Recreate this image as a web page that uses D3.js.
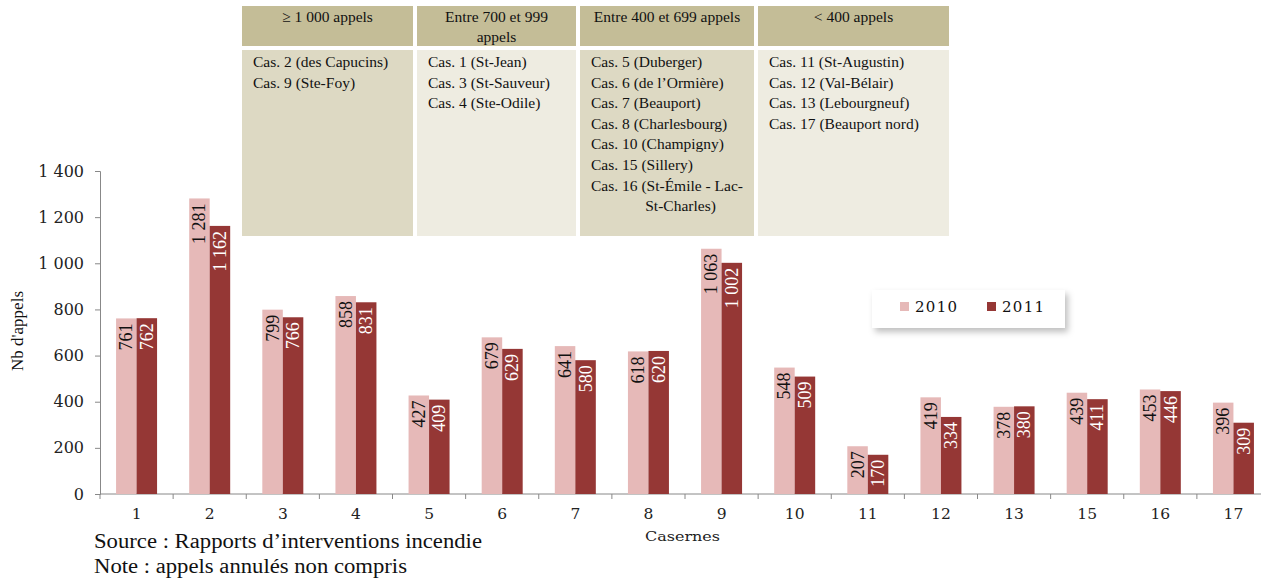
<!DOCTYPE html>
<html><head><meta charset="utf-8">
<script src="https://cdn.jsdelivr.net/npm/d3@7"></script>
<style>body{margin:0;background:#fff}svg{display:block}</style>
</head><body><svg id="c" width="1261" height="579"></svg>
<script>
const categories = ["1","2","3","4","5","6","7","8","9","10","11","12","13","15","16","17"];
const series = ["2010","2011"];
const values2010 = [761,1281,799,858,427,679,641,618,1063,548,207,419,378,439,453,396];
const values2011 = [762,1162,766,831,409,629,580,620,1002,509,170,334,380,411,446,309];
const yTicks = [0,200,400,600,800,1000,1200,1400];
const tableHeaders = [["≥ 1 000 appels"],["Entre 700 et 999","appels"],["Entre 400 et 699 appels"],["< 400 appels"]];
const tableRows = [
  ["Cas. 2 (des Capucins)","Cas. 9 (Ste-Foy)"],
  ["Cas. 1 (St-Jean)","Cas. 3 (St-Sauveur)","Cas. 4 (Ste-Odile)"],
  ["Cas. 5 (Duberger)","Cas. 6 (de l’Ormière)","Cas. 7 (Beauport)","Cas. 8 (Charlesbourg)","Cas. 10 (Champigny)","Cas. 15 (Sillery)","Cas. 16 (St-Émile - Lac-","              St-Charles)"],
  ["Cas. 11 (St-Augustin)","Cas. 12 (Val-Bélair)","Cas. 13 (Lebourgneuf)","Cas. 17 (Beauport nord)"]
];
const colors = ["#e6b9b8","#953735"];
const labelColors = ["#111","#fff"];

const svg = d3.select("#c");
const x = d3.scaleBand().domain(categories).range([100,1270]).paddingInner(0).paddingOuter(0);
const y = d3.scaleLinear().domain([0,1400]).range([494,171]);
const barW = 20.5;
const serif = "'Liberation Serif', serif";
const wide = "'DejaVu Serif', serif";
const fmt = v => d3.format(",")(v).replace(",", " ");

// table
const cols = [[242,413],[417,576],[580,754],[758,949]];
const bodyFill = ["#ddd9c3","#eeece1","#ddd9c3","#eeece1"];
const tbl = svg.append("g");
cols.forEach((c,i)=>{
  tbl.append("rect").attr("x",c[0]).attr("y",6).attr("width",c[1]-c[0]).attr("height",40).attr("fill","#c4bd97");
  tbl.append("rect").attr("x",c[0]).attr("y",50).attr("width",c[1]-c[0]).attr("height",186).attr("fill",bodyFill[i]);
  tableHeaders[i].forEach((t,j)=>{
    tbl.append("text").attr("x",(c[0]+c[1])/2).attr("y",22+j*20).attr("text-anchor","middle")
      .attr("font-family",serif).attr("font-size",15.5).attr("fill","#111").text(t);
  });
  tableRows[i].forEach((t,j)=>{
    tbl.append("text").attr("x",c[0]+11).attr("y",67+j*20.6)
      .attr("font-family",serif).attr("font-size",15.5).attr("fill","#111").attr("xml:space","preserve").style("white-space","pre").text(t);
  });
});

// axes
const yAxis = d3.axisLeft(y).tickValues(yTicks).tickSize(5).tickPadding(11).tickFormat(fmt);
const gy = svg.append("g").attr("transform","translate(100,0)").call(yAxis);
gy.selectAll("path,line").attr("stroke","#888");
gy.selectAll("text").attr("font-family",wide).attr("font-size",16).attr("fill","#222");

const gx = svg.append("g").attr("transform","translate(0,494)");
gx.append("line").attr("x1",100).attr("x2",1270).attr("stroke","#888");
gx.selectAll("line.t").data(categories).join("line").attr("class","t")
  .attr("x1",d=>x(d)).attr("x2",d=>x(d)).attr("y1",0).attr("y2",5).attr("stroke","#888");
gx.selectAll("text").data(categories).join("text")
  .attr("x",d=>x(d)+x.bandwidth()/2).attr("y",25).attr("text-anchor","middle")
  .attr("font-family",wide).attr("font-size",15.5).attr("fill","#222").text(d=>d);

// bars
const data = [values2010, values2011];
data.forEach((vals,si)=>{
  const g = svg.append("g");
  g.selectAll("rect").data(categories).join("rect")
    .attr("x",d=>x(d)+x.bandwidth()/2-barW+si*barW)
    .attr("y",(d,i)=>y(vals[i])).attr("width",barW).attr("height",(d,i)=>494-y(vals[i]))
    .attr("fill",colors[si]);
  g.selectAll("text").data(categories).join("text")
    .attr("transform",(d,i)=>`translate(${x(d)+x.bandwidth()/2-barW+si*barW+barW/2+6},${y(vals[i])+5}) rotate(-90)`)
    .attr("text-anchor","end").attr("font-family",serif).attr("font-size",18)
    .attr("fill",labelColors[si])
    .text((d,i)=>fmt(vals[i]));
});

// axis titles
svg.append("text").attr("transform","translate(23,331) rotate(-90)").attr("text-anchor","middle")
  .attr("font-family",serif).attr("font-size",17).attr("fill","#111").text("Nb d'appels");
svg.append("text").attr("x",645).attr("y",541)
  .attr("font-family",wide).attr("font-size",13).attr("textLength",75).attr("lengthAdjust","spacingAndGlyphs")
  .attr("fill","#222").text("Casernes");
svg.append("text").attr("x",94).attr("y",548).attr("font-family",serif).attr("font-size",20.5)
  .attr("textLength",388).attr("lengthAdjust","spacingAndGlyphs").attr("fill","#111")
  .text("Source : Rapports d’interventions incendie");
svg.append("text").attr("x",94).attr("y",573).attr("font-family",serif).attr("font-size",20.5)
  .attr("textLength",313).attr("lengthAdjust","spacingAndGlyphs").attr("fill","#111")
  .text("Note : appels annulés non compris");

// legend
const defs = svg.append("defs");
const f = defs.append("filter").attr("id","sh").attr("x","-10%").attr("y","-20%").attr("width","130%").attr("height","160%");
f.append("feDropShadow").attr("dx",3).attr("dy",4).attr("stdDeviation",3).attr("flood-color","#000").attr("flood-opacity",0.25);
const lg = svg.append("g");
lg.append("rect").attr("x",872).attr("y",290).attr("width",193).attr("height",38).attr("fill","#fff").attr("filter","url(#sh)");
series.forEach((s,i)=>{
  const lx = 900 + i*87;
  lg.append("rect").attr("x",lx).attr("y",302).attr("width",9).attr("height",9).attr("fill",colors[i]);
  lg.append("text").attr("x",lx+15).attr("y",312).attr("font-family",wide).attr("font-size",15)
    .attr("letter-spacing",1.3).attr("fill","#111").text(s);
});
</script></body></html>
